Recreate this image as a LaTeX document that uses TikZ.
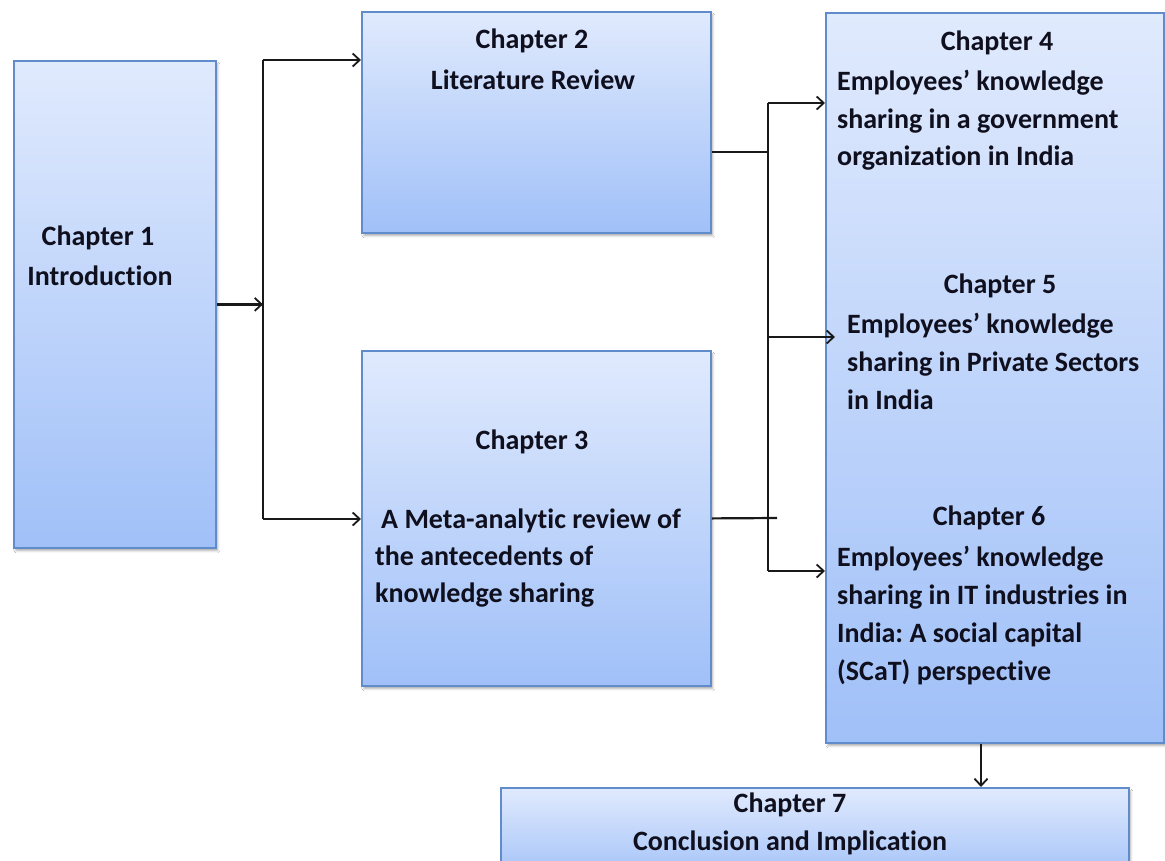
\documentclass[tikz,border=0pt]{standalone}
\usepackage{fontspec}
\setmainfont{Carlito}[Ligatures=CommonOff]
\frenchspacing
\usetikzlibrary{arrows.meta,shadows.blur}
\definecolor{boxedge}{RGB}{96,140,204}
\definecolor{boxtop}{RGB}{224,234,253}
\definecolor{boxbot}{RGB}{160,192,248}
\definecolor{ink}{RGB}{15,15,30}
\definecolor{wire}{RGB}{25,25,25}
\begin{document}
\begin{tikzpicture}[x=1pt,y=-1pt,
  chbox/.style={draw=boxedge, line width=1.8pt, top color=boxtop,
    bottom color=boxbot, inner sep=0pt, anchor=north west,
    blur shadow={shadow xshift=2pt, shadow yshift=-3pt,
      shadow opacity=30, shadow blur steps=4}},
  txt/.style={font=\fontsize{28}{38}\selectfont\bfseries, text=ink, inner sep=0pt},
  mid/.style={txt, anchor=base},
  lft/.style={txt, anchor=base west},
  conn/.style={draw=wire, line width=2.2pt},
  tip/.style={conn, -{Straight Barb[length=7pt,width=13pt,line width=1.8pt]}}]
\useasboundingbox (0,0) rectangle (1165,860);
\fill[white] (0,0) rectangle (1165,860);

% chapter boxes
\node[chbox, minimum width=202pt, minimum height=487pt] (b1) at (13,60) {};
\node[chbox, minimum width=349pt, minimum height=221pt] (b2) at (361,11) {};
\node[chbox, minimum width=349pt, minimum height=335pt] (b3) at (361,350) {};
\node[chbox, minimum width=338pt, minimum height=730pt] (b4) at (825,12) {};
\node[chbox, minimum width=628pt, minimum height=95pt] (b7) at (500,787) {};

% texts
\node[mid] (t1a) at (98,245) {Chapter 1};
\node[mid] (t1b) at (100,285) {Introduction};

\node[mid] (t2a) at (532,48) {Chapter 2};
\node[mid] (t2b) at (533,89) {Literature Review};

\node[mid] (t3a) at (532,449) {Chapter 3};
\node[lft] (t3b) at (381,528) {A Meta-analytic review of};
\node[lft] (t3c) at (375,565) {the antecedents of};
\node[lft] (t3d) at (375,602) {knowledge sharing};

\node[mid] (t4a) at (997,50) {Chapter 4};
\node[lft] (t4b) at (837,90) {Employees’ knowledge};
\node[lft] (t4c) at (837,128) {sharing in a government};
\node[lft] (t4d) at (837,165) {organization in India};

\node[mid] (t5a) at (1000,293) {Chapter 5};
\node[lft] (t5b) at (847,333) {Employees’ knowledge};
\node[lft] (t5c) at (847,371) {sharing in Private Sectors};
\node[lft] (t5d) at (847,409) {in India};

\node[mid] (t6a) at (989,525) {Chapter 6};
\node[lft] (t6b) at (837,566) {Employees’ knowledge};
\node[lft] (t6c) at (837,604) {sharing in IT industries in};
\node[lft] (t6d) at (837,642) {India: A social capital};
\node[lft] (t6e) at (837,680) {(SCaT) perspective};

\node[mid] (t7a) at (790,812) {Chapter 7};
\node[mid] (t7b) at (790,850) {Conclusion and Implication};

% left splitter
\coordinate (slt) at (263,60);
\coordinate (slb) at (263,519);
\draw[tip] (b1.east) -- (b1.east -| slt);
\draw[conn] (slt) -- (slb);
\draw[tip] (slt) -- (slt -| b2.west);
\draw[tip] (slb) -- (slb -| b3.west);

% right splitter
\coordinate (srt) at (768,103);
\coordinate (srb) at (768,571);
\coordinate (sr2) at (768,152);
\coordinate (sr3) at (777,518);
\coordinate (sr5) at (768,337);
\coordinate (a5) at (835,337);
\draw[conn] (srt) -- (srb);
\draw[conn] (sr2 -| b2.east) -- (sr2);
\draw[conn] (b3.east) -- (sr3);
\draw[tip] (srt) -- (srt -| b4.west);
\draw[tip] (sr5) -- (a5);
\draw[tip] (srb) -- (srb -| b4.west);

% down to the last chapter
\coordinate (dn) at (981,0);
\draw[tip] (b4.south -| dn) -- (b7.north -| dn);
\end{tikzpicture}
\end{document}
